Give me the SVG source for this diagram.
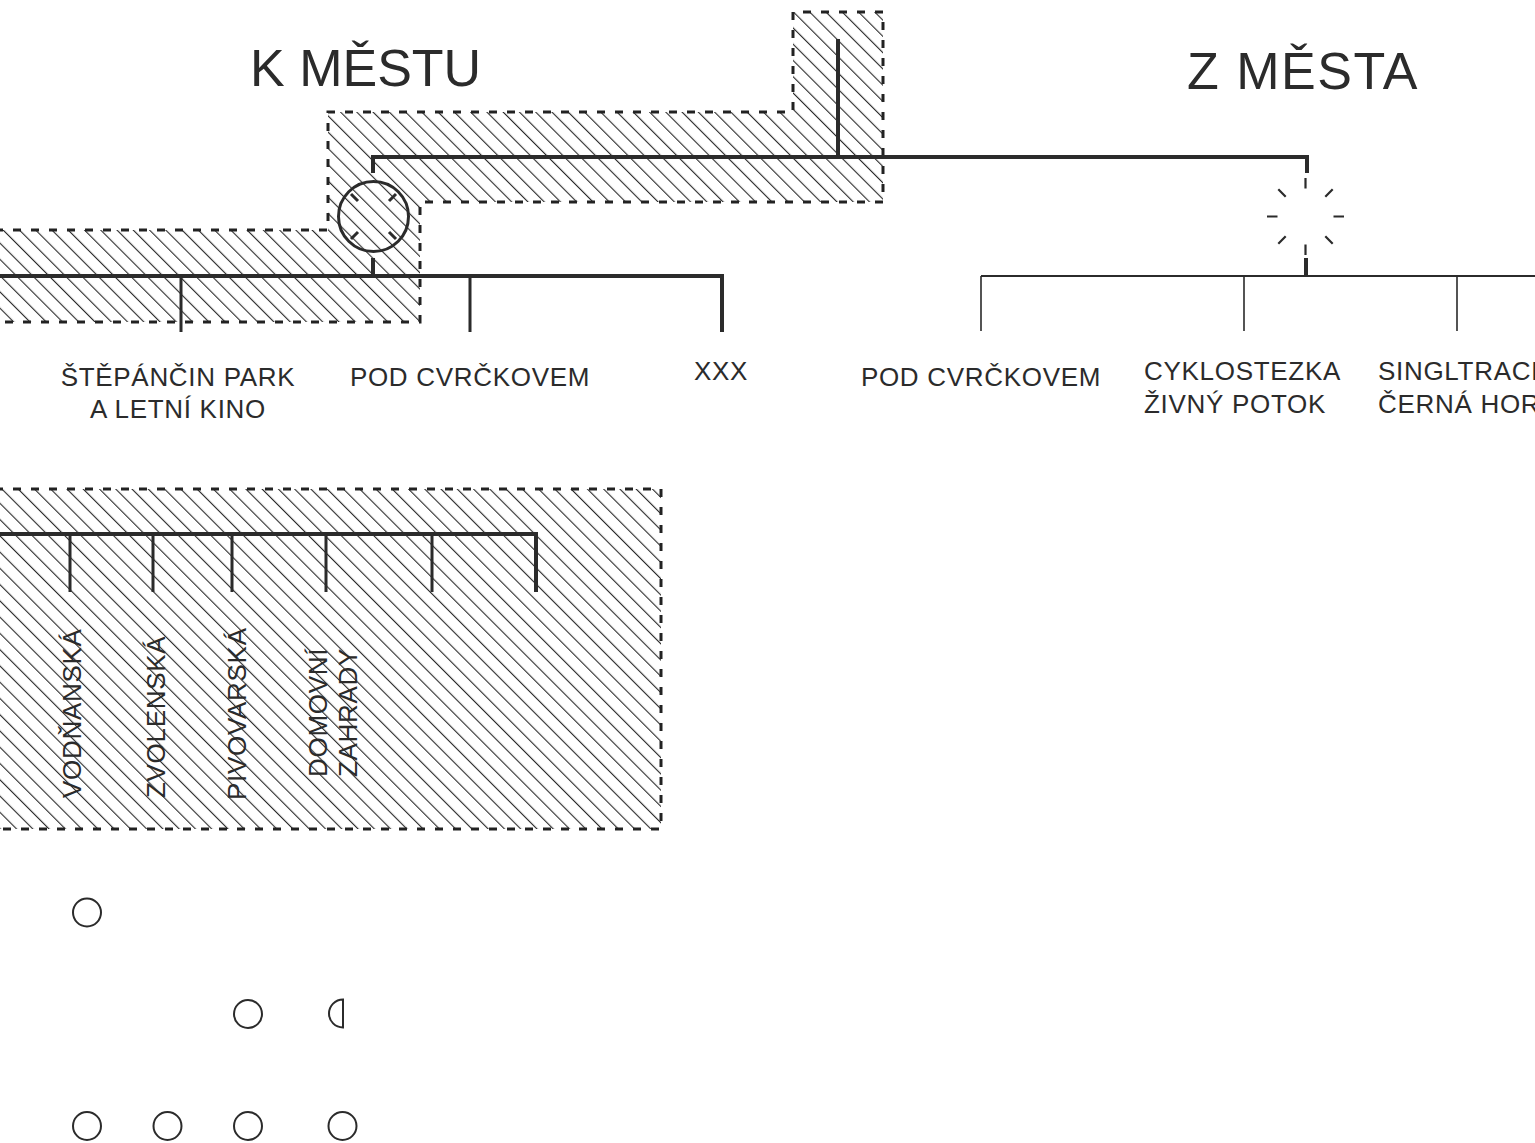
<svg xmlns="http://www.w3.org/2000/svg" width="1535" height="1143" viewBox="0 0 1535 1143">
<style>
.lbl{font-family:"Liberation Sans",Arial,sans-serif;font-size:26px;letter-spacing:0.7px;fill:#2b2b2b}
.head{font-family:"Liberation Sans",Arial,sans-serif;font-size:52px;fill:#2b2b2b}
.zone{fill:url(#hatch);stroke:#222;stroke-width:3;stroke-dasharray:8 10}
.l4{stroke:#2b2b2b;stroke-width:4;fill:none}
.l3{stroke:#2b2b2b;stroke-width:3;fill:none}
.l2{stroke:#2b2b2b;stroke-width:2.2;fill:none}
.l15{stroke:#2b2b2b;stroke-width:1.6;fill:none}
.dot{stroke:#2b2b2b;stroke-width:2;fill:none}
</style>
<defs>
<pattern id="hatch" patternUnits="userSpaceOnUse" width="11.5" height="11.5" patternTransform="rotate(-45)">
<line x1="0.6" y1="-1" x2="0.6" y2="12.5" stroke="#111" stroke-width="1"/>
</pattern>
</defs>
<rect width="1535" height="1143" fill="#fff"/>
<g id="zones">
<path class="zone" d="M-5,230 H328 V112 H793 V12 H883 V202 H420 V322 H-5 Z"/>
<rect class="zone" x="-5" y="489" width="666" height="340"/>
</g>
<g id="headings">
<text class="head" x="250" y="86">K MĚSTU</text>
<text class="head" x="1187" y="89" letter-spacing="1.5">Z MĚSTA</text>
</g>
<g id="connectors">
<path class="l4" d="M838,39 V157 M373,173 V157 H1307 V173"/>
<path class="l4" d="M373,258 V276 M0,276 H722 V332"/>
<path class="l3" d="M181,276 V332 M470,276 V332"/>
<path class="l4" d="M1306,258 V276"/>
<path class="l2" d="M981,276 H1540"/>
<path class="l15" d="M981,276 V331 M1244,276 V331 M1457,276 V331"/>
<path class="l4" d="M0,534 H536 V592"/>
<path class="l3" d="M70,534 V592 M153,534 V592 M232,534 V592 M326,534 V592 M432,534 V592"/>
</g>
<g id="hub-k">
<circle class="l3" cx="373.5" cy="216.5" r="35"/>
<path class="l3" d="M358,201 L351,194 M389,201 L396,194 M358,232 L351,239 M389,232 L396,239"/>
</g>
<g id="hub-z" stroke="#2b2b2b" stroke-width="2.2">
<path d="M1305.5,188.5 V178 M1305.5,244.5 V255 M1277.5,216.5 H1267 M1333.5,216.5 H1344 M1285.7,196.7 L1278.3,189.3 M1325.3,196.7 L1332.7,189.3 M1285.7,236.3 L1278.3,243.7 M1325.3,236.3 L1332.7,243.7"/>
</g>
<g id="labels-k">
<text class="lbl" x="178" y="386" text-anchor="middle">ŠTĚPÁNČIN PARK</text>
<text class="lbl" x="178" y="418" text-anchor="middle">A LETNÍ KINO</text>
<text class="lbl" x="470" y="386" text-anchor="middle">POD CVRČKOVEM</text>
<text class="lbl" x="721" y="380" text-anchor="middle">XXX</text>
</g>
<g id="labels-z">
<text class="lbl" x="981" y="386" text-anchor="middle">POD CVRČKOVEM</text>
<text class="lbl" x="1144" y="380">CYKLOSTEZKA</text>
<text class="lbl" x="1144" y="413">ŽIVNÝ POTOK</text>
<text class="lbl" x="1378" y="380">SINGLTRACK</text>
<text class="lbl" x="1378" y="413">ČERNÁ HORA</text>
</g>
<g id="labels-vertical">
<text class="lbl" transform="translate(81,798) rotate(-90)">VODŇANSKÁ</text>
<text class="lbl" transform="translate(165,798) rotate(-90)">ZVOLENSKÁ</text>
<text class="lbl" transform="translate(246,800) rotate(-90)">PIVOVARSKÁ</text>
<text class="lbl" transform="translate(327,777) rotate(-90)">DOMOVNÍ</text>
<text class="lbl" transform="translate(357,777) rotate(-90)">ZAHRADY</text>
</g>
<g id="dots">
<circle class="dot" cx="87" cy="912.5" r="14"/>
<circle class="dot" cx="248" cy="1014" r="14"/>
<path class="dot" d="M343,999.5 A14,14 0 0 0 343,1027.5 Z"/>
<circle class="dot" cx="87" cy="1126" r="14"/>
<circle class="dot" cx="167.5" cy="1126" r="14"/>
<circle class="dot" cx="248" cy="1126" r="14"/>
<circle class="dot" cx="342.5" cy="1126" r="14"/>
</g>
</svg>
